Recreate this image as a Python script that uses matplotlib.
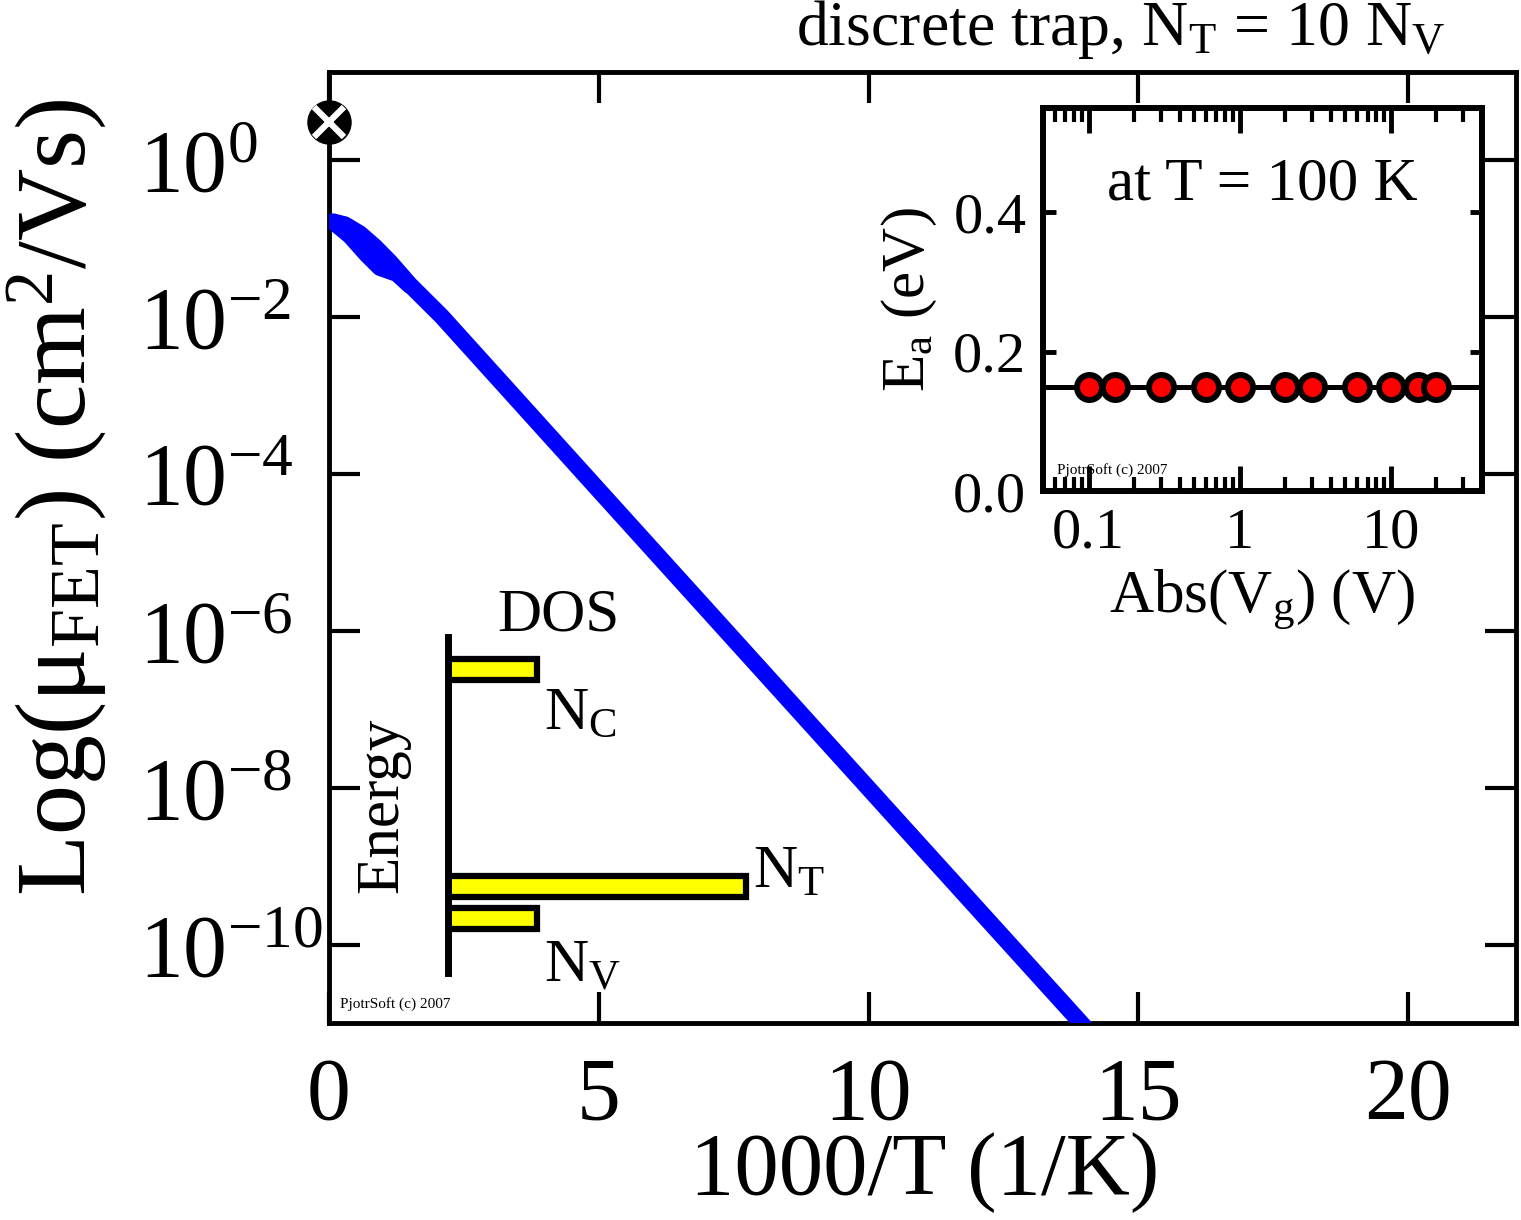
import matplotlib
matplotlib.use('Agg')  # no display
import matplotlib.pyplot as plt
import numpy as np
from matplotlib.ticker import NullLocator, NullFormatter, LogLocator

plt.rcParams['font.family'] = ['Liberation Serif', 'DejaVu Serif']
plt.rcParams['mathtext.fontset'] = 'custom'
plt.rcParams['mathtext.rm'] = 'Liberation Serif'
plt.rcParams['mathtext.it'] = 'Liberation Serif:italic'
plt.rcParams['mathtext.bf'] = 'Liberation Serif:bold'

# main curve, 1000/T vs log10(mobility)
inv_t_main = [0.074, 0.296, 0.573, 0.850, 1.128, 1.497, 2.089, 5.0, 8.0, 11.0, 13.9, 14.3]
log_mu_main = [-0.788, -0.826, -0.94, -1.106, -1.30, -1.59, -1.995, -4.21, -6.49, -8.77,
               -10.97, -11.28]
# branch that splits off at high temperature
inv_t_branch = [0.074, 0.388, 0.702, 0.943, 1.257, 1.497]
log_mu_branch = [-0.788, -0.966, -1.208, -1.373, -1.449, -1.60]
# free-band mobility marker
marker_x = [0.0]
marker_mu = [3.0]

# inset: activation energy vs gate voltage
vg_abs = [0.1, 0.15, 0.3, 0.6, 1, 2, 3, 6, 10, 15, 20]
ea = [0.15, 0.15, 0.15, 0.15, 0.15, 0.15, 0.15, 0.15, 0.15, 0.15, 0.15]
ea_level = 0.15

# DOS sketch
dos_names = ['C', 'T', 'V']
dos_energy = [0.903, 0.257, 0.161]
dos_width = [1.0, 3.34, 1.0]
dos_label_dy = [-0.05, 0.125, -0.06]

xticks = [0, 5, 10, 15, 20]
yticks = [1e0, 1e-2, 1e-4, 1e-6, 1e-8, 1e-10]
ytick_labels = [r'$\mathrm{10^{0}}$', r'$\mathrm{10^{-2}}$', r'$\mathrm{10^{-4}}$',
                r'$\mathrm{10^{-6}}$', r'$\mathrm{10^{-8}}$', r'$\mathrm{10^{-10}}$']

W, H = 1521, 1220
fig = plt.figure(figsize=(W / 100, H / 100), dpi=100)

# ---- main axes ----
ax = fig.add_axes([329 / W, 1 - 1023 / H, (1516 - 329) / W, (1023 - 72) / H])
ax.set_yscale('log')
ax.plot(inv_t_main, 10 ** np.array(log_mu_main), color='#0000ff', lw=12,
        solid_capstyle='butt', solid_joinstyle='round', zorder=3)
ax.plot(inv_t_branch, 10 ** np.array(log_mu_branch), color='#0000ff', lw=12,
        solid_capstyle='round', solid_joinstyle='round', zorder=3)
ax.plot(marker_x, marker_mu, 'o', ms=31, color='black', clip_on=False, zorder=6)
ax.plot(marker_x, marker_mu, marker='x', ms=22, mew=4.5, color='white',
        clip_on=False, zorder=7)
ax.set_xlim(0, 22)
ax.set_ylim(1e-11, 10 ** 1.12)
ax.set_xticks(xticks, [str(t) for t in xticks])
ax.set_yticks(yticks, ytick_labels)
ax.yaxis.set_minor_locator(NullLocator())
ax.tick_params(direction='in', length=22, width=3, top=True, right=True,
               labelsize=63)
ax.tick_params(axis='x', pad=24)
ax.tick_params(axis='y', pad=137)
for lbl in ax.get_yticklabels():
    lbl.set_horizontalalignment('left')
for s in ax.spines.values():
    s.set_linewidth(3.5)
ax.set_xlabel('1000/T (1/K)', fontsize=64)
ax.xaxis.set_label_coords(0.502, -0.115)
ax.set_ylabel(r'Log($\mathrm{μ_{FET}}$) (cm$^\mathrm{2}$/Vs)', fontsize=72)
ax.yaxis.set_label_coords(-0.185, 0.553)
ax.text(0.009, 0.016, 'PjotrSoft (c) 2007', transform=ax.transAxes, fontsize=11)

fig.text(1445 / W, 1 - 45 / H, r'discrete trap, N$_\mathrm{T}$ = 10 N$_\mathrm{V}$',
         ha='right', va='baseline', fontsize=46)

# ---- inset ----
ins = fig.add_axes([1043 / W, 1 - 491 / H, 439 / W, 383 / H])
ins.set_xscale('log')
ins.axhline(ea_level, color='black', lw=3.6, zorder=2)
ins.plot(vg_abs, ea, 'o', ms=18, mfc='#ff0000', mec='black', mew=4.3, zorder=3)
ins.set_xlim(0.05, 40)
ins.set_ylim(0, 0.55)
ins.set_xticks([0.1, 1, 10], ['0.1', '1', '10'])
ins.set_yticks([0, 0.2, 0.4], ['0.0', '0.2', '0.4'])
ins.xaxis.set_minor_locator(LogLocator(subs=np.arange(2, 10)))
ins.xaxis.set_minor_formatter(NullFormatter())
ins.tick_params(which='major', direction='in', length=18, width=3.5,
                top=True, right=True, labelsize=42, pad=12)
ins.tick_params(which='minor', direction='in', length=10, width=3,
                top=True, bottom=True)
ins.tick_params(axis='y', length=9)
for s in ins.spines.values():
    s.set_linewidth(4.3)
ins.set_xlabel(r'Abs(V$_\mathrm{g}$) (V)', fontsize=44, labelpad=6)
ins.set_ylabel(r'E$_\mathrm{a}$ (eV)', fontsize=44, labelpad=10)
ins.text(0.5, 0.80, 'at T = 100 K', transform=ins.transAxes, ha='center',
         va='center', fontsize=44)
ins.text(0.032, 0.045, 'PjotrSoft (c) 2007', transform=ins.transAxes, fontsize=11)

# ---- DOS sketch ----
dos = fig.add_axes([448 / W, 1 - 973 / H, 312 / W, 336 / H])
dos.set_facecolor('none')
dos.barh(dos_energy, dos_width, height=0.0625, left=0, color='#ffff00',
         edgecolor='black', linewidth=4.5)
dos.set_xlim(0, 3.5)
dos.set_ylim(0, 1)
for k in ['top', 'right', 'bottom']:
    dos.spines[k].set_visible(False)
dos.spines['left'].set_linewidth(5)
dos.set_xticks([])
dos.set_yticks([])
for name, e, w, dy in zip(dos_names, dos_energy, dos_width, dos_label_dy):
    dos.text(w + 0.08, e + dy, r'N$_\mathrm{%s}$' % name, fontsize=44,
             va='top', ha='left', clip_on=False)
dos.text(1.24, 1.02, 'DOS', fontsize=44, ha='center', va='baseline')
dos.text(-0.73, 0.5, 'Energy', fontsize=44, rotation=90, ha='center', va='center')

fig.savefig('out.png', dpi=100)
